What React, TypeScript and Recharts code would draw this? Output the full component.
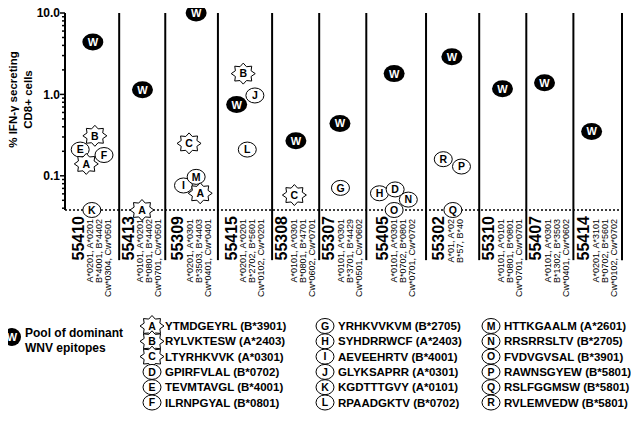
import { ScatterChart, Scatter, XAxis, YAxis, ReferenceLine, Legend } from 'recharts'

const FONT = '"Liberation Sans", Arial, Helvetica, sans-serif'

// donors, left to right
const patients = ['55410', '55413', '55309', '55415', '55308', '55307', '55405', '55302', '55310', '55407', '55414']

const hlaTypes = [
  ['A*0201, A*0201', 'B*4001, B*4402', 'Cw*0304, Cw*0501'],
  ['A*0101, A*0201', 'B*0801, B*4402', 'Cw*0701, Cw*0501'],
  ['A*0201, A*0301', 'B*3503, B*4403', 'Cw*0401, Cw*0401'],
  ['A*0201, A*0201', 'B*2702, B*5601', 'Cw*0102, Cw*0201'],
  ['A*0101, A*0301', 'B*0801, B*4701', 'Cw*0602, Cw*0701'],
  ['A*0101, A*0301', 'B*3701, B*4429', 'Cw*0501, Cw*0602'],
  ['A*0101, A*0301', 'B*0702, B*0801', 'Cw*0701, Cw*0702'],
  ['A*01, A*02', 'B*57, B*40'],
  ['A*0101, A*0101', 'B*0801, B*0801', 'Cw*0701, Cw*0701'],
  ['A*0101, A*0301', 'B*1302, B*3503', 'Cw*0401, Cw*0602'],
  ['A*0201, A*3101', 'B*0702, B*5601', 'Cw*0102, Cw*0702'],
]

// column boundaries on the x axis (columns are not all the same width)
const columnEdges = [0, 1.07, 1.98, 3.02, 4.09, 5.02, 5.95, 7.13, 8.18, 9.11, 10.04, 11]
const columnCenters = patients.map((_, i) => (columnEdges[i] + columnEdges[i + 1]) / 2)

// detection limit (dotted line)
const LOD = 0.038
// how far the column dividers run down into the label area
const DIVIDER_END = 0.0092

// [epitope, x position, % IFN-g secreting CD8+ cells]
const responses: [string, number, number][] = [
  ['W', 0.55, 4.4], ['B', 0.59, 0.31], ['E', 0.3, 0.21], ['F', 0.77, 0.18], ['A', 0.42, 0.14], ['K', 0.53, LOD],
  ['W', 1.53, 1.14], ['A', 1.52, LOD],
  ['W', 2.59, 10], ['C', 2.45, 0.25], ['I', 2.34, 0.076], ['M', 2.59, 0.097], ['A', 2.67, 0.061],
  ['B', 3.52, 1.8], ['J', 3.75, 0.97], ['W', 3.39, 0.75], ['L', 3.6, 0.21],
  ['W', 4.56, 0.27], ['C', 4.53, 0.058],
  ['W', 5.43, 0.44], ['G', 5.44, 0.071],
  ['W', 6.5, 1.8], ['H', 6.21, 0.061], ['D', 6.52, 0.068], ['N', 6.78, 0.051], ['O', 6.5, LOD],
  ['W', 7.64, 2.9], ['R', 7.47, 0.16], ['P', 7.83, 0.13], ['Q', 7.66, LOD],
  ['W', 8.64, 1.17],
  ['W', 9.47, 1.39],
  ['W', 10.4, 0.35],
]

const starEpitopes = ['A', 'B', 'C']
const epitopeLetters = 'ABCDEFGHIJKLMNOPQR'.split('')
const epitopeSeqs = [
  'YTMDGEYRL', 'RYLVKTESW', 'LTYRHKVVK', 'GPIRFVLAL', 'TEVMTAVGL', 'ILRNPGYAL',
  'YRHKVVKVM', 'SYHDRRWCF', 'AEVEEHRTV', 'GLYKSAPRR', 'KGDTTTGVY', 'RPAADGKTV',
  'HTTKGAALM', 'RRSRRSLTV', 'FVDVGVSAL', 'RAWNSGYEW', 'RSLFGGMSW', 'RVLEMVEDW',
]
const epitopeRestriction = [
  'B*3901', 'A*2403', 'A*0301', 'B*0702', 'B*4001', 'B*0801',
  'B*2705', 'A*2403', 'B*4001', 'A*0301', 'A*0101', 'B*0702',
  'A*2601', 'B*2705', 'B*3901', 'B*5801', 'B*5801', 'B*5801',
]

const majorTicks = [0.1, 1, 10]
const yTicks = [
  0.04, 0.05, 0.06, 0.07, 0.08, 0.09, 0.1,
  0.2, 0.3, 0.4, 0.5, 0.6, 0.7, 0.8, 0.9, 1,
  2, 3, 4, 5, 6, 7, 8, 9, 10,
]

const data = responses.map(([epitope, x, y]) => ({ epitope, x, y }))

function starPath(cx: number, cy: number) {
  const pts: string[] = []
  for (let i = 0; i < 16; i++) {
    const a = (Math.PI * i) / 8
    const outer = i % 2 === 0
    const rx = outer ? 12 : 8.5
    const ry = outer ? 10.5 : 7.5
    pts.push(`${(cx + rx * Math.cos(a)).toFixed(2)},${(cy + ry * Math.sin(a)).toFixed(2)}`)
  }
  return 'M' + pts.join('L') + 'Z'
}

function EpitopeMarker({ cx, cy, label }: { cx: number; cy: number; label: string }) {
  if (label === 'W') {
    return (
      <g fontFamily={FONT}>
        <ellipse cx={cx} cy={cy} rx={10.5} ry={8.5} fill="#000" />
        <text x={cx} y={cy} dy="0.36em" textAnchor="middle" fontSize={11} fontWeight="bold" fill="#fff">W</text>
      </g>
    )
  }
  const star = starEpitopes.includes(label)
  return (
    <g fontFamily={FONT}>
      {star ? (
        <path d={starPath(cx, cy)} fill="#fff" stroke="#000" strokeWidth={1} />
      ) : (
        <ellipse cx={cx} cy={cy} rx={9} ry={7.5} fill="#fff" stroke="#000" strokeWidth={1} />
      )}
      <text x={cx} y={cy} dy="0.36em" textAnchor="middle" fontSize={10.5} fontWeight="bold" fill="#000">{label}</text>
    </g>
  )
}

function ResponseShape(props: any) {
  const { cx, cy, payload } = props
  if (cx == null || cy == null) return null
  return <EpitopeMarker cx={cx} cy={cy} label={payload.epitope} />
}

function YTick(props: any) {
  const { x, y, payload } = props
  const major = majorTicks.includes(payload.value)
  const len = major ? 5 : 3
  return (
    <g fontFamily={FONT}>
      <line x1={x - len} x2={x} y1={y} y2={y} stroke="#000" strokeWidth={1.5} />
      {major && (
        <text x={x - 5} y={y} dy="0.35em" textAnchor="end" fontSize={12} fontWeight="bold" fill="#000">
          {payload.value.toFixed(1)}
        </text>
      )}
    </g>
  )
}

function YTitle(props: any) {
  const vb = props.viewBox || { x: 0, y: 0, width: 65, height: 200 }
  const cy = vb.y + vb.height / 2 - 12
  return (
    <g fontFamily={FONT} fontSize={11.5} fontWeight="bold" fill="#000">
      <text transform={`translate(${vb.x + 13},${cy}) rotate(-90)`} textAnchor="middle" dy="0.35em">% IFN-γ secreting</text>
      <text transform={`translate(${vb.x + 28},${cy}) rotate(-90)`} textAnchor="middle" dy="0.35em">CD8+ cells</text>
    </g>
  )
}

function PatientTick(props: any) {
  const { x, y, payload } = props
  const index = columnCenters.findIndex((c) => Math.abs(c - payload.value) < 1e-6)
  if (index < 0) return null
  const lines = hlaTypes[index]
  return (
    <g fontFamily={FONT} fill="#000">
      <text transform={`translate(${x - 14},${y + 6}) rotate(-90)`} textAnchor="end" dy="0.35em" fontSize={16} fontWeight="bold">
        {patients[index]}
      </text>
      {lines.map((l, i) => (
        <text key={i} transform={`translate(${x - 2 + i * 9},${y + 9}) rotate(-90)`} textAnchor="end" dy="0.35em" fontSize={9}>
          {l}
        </text>
      ))}
    </g>
  )
}

const legendColX = [152, 325, 491]

function EpitopeLegend() {
  return (
    <svg width={639} height={125} style={{ display: 'block' }} fontFamily={FONT}>
      <ellipse cx={12} cy={37} rx={9} ry={9} fill="#000" />
      <text x={12} y={37} dy="0.36em" textAnchor="middle" fontSize={11} fontWeight="bold" fill="#fff">W</text>
      <text x={25} y={33} dy="0.35em" fontSize={12} fontWeight="bold">Pool of dominant</text>
      <text x={25} y={48} dy="0.35em" fontSize={12} fontWeight="bold">WNV epitopes</text>
      {epitopeLetters.map((l, i) => {
        const cx = legendColX[Math.floor(i / 6)]
        const cy = 26 + (i % 6) * 15.3
        return (
          <g key={l}>
            <EpitopeMarker cx={cx} cy={cy} label={l} />
            <text x={cx + 13} y={cy} dy="0.35em" fontSize={11.5} fontWeight="bold">
              {epitopeSeqs[i]} ({epitopeRestriction[i]})
            </text>
          </g>
        )
      })}
    </svg>
  )
}

export default function App() {
  return (
    <div style={{ margin: -8, width: 639, height: 425, position: 'relative', background: '#fff' }}>
      <ScatterChart width={639} height={425} margin={{ top: 13, right: 17, bottom: 115, left: 0 }}>
        <XAxis
          type="number"
          dataKey="x"
          domain={[0, 11]}
          ticks={columnCenters}
          interval={0}
          height={100}
          tickSize={0}
          tickMargin={0}
          axisLine={false}
          tickLine={false}
          tick={<PatientTick />}
        />
        <YAxis
          type="number"
          dataKey="y"
          scale="log"
          domain={[LOD, 10]}
          ticks={yTicks}
          interval={0}
          width={65}
          tickSize={0}
          tickMargin={0}
          tickLine={false}
          axisLine={{ stroke: '#000', strokeWidth: 2 }}
          tick={<YTick />}
          label={<YTitle />}
        />
        <ReferenceLine y={LOD} stroke="#000" strokeWidth={1.5} strokeDasharray="2 2" />
        {columnEdges.slice(1).map((e) => (
          <ReferenceLine
            key={e}
            segment={[{ x: e, y: 10 }, { x: e, y: DIVIDER_END }]}
            ifOverflow="visible"
            stroke="#000"
            strokeWidth={2}
          />
        ))}
        <Scatter data={data} dataKey="y" shape={<ResponseShape />} isAnimationActive={false} />
        <Legend
          verticalAlign="middle"
          align="center"
          layout="horizontal"
          wrapperStyle={{ top: 300, left: 0, width: 639, height: 125 }}
          content={() => <EpitopeLegend />}
        />
      </ScatterChart>
    </div>
  )
}
